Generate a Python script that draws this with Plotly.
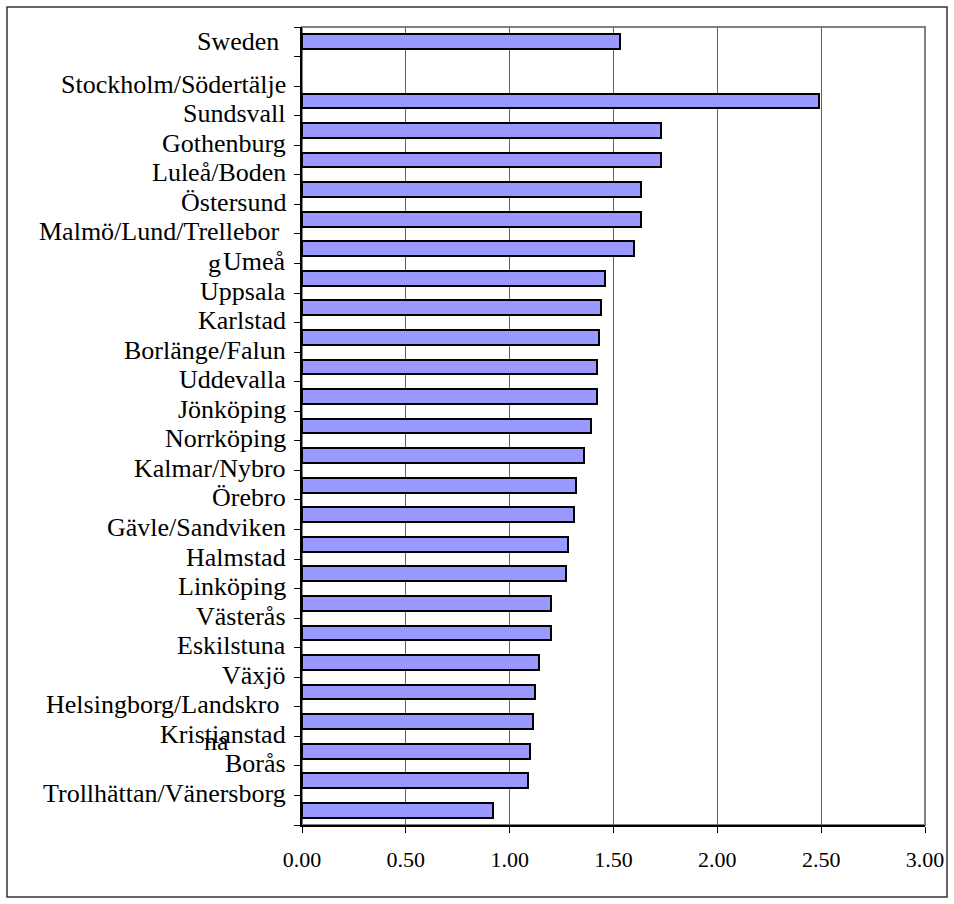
import plotly.graph_objects as go

# ---- data ----
categories = ["Sweden", "Stockholm/Södertälje", "Sundsvall", "Gothenburg", "Luleå/Boden",
              "Östersund", "Malmö/Lund/Trelleborg", "Umeå", "Uppsala", "Karlstad",
              "Borlänge/Falun", "Uddevalla", "Jönköping", "Norrköping", "Kalmar/Nybro",
              "Örebro", "Gävle/Sandviken", "Halmstad", "Linköping", "Västerås",
              "Eskilstuna", "Växjö", "Helsingborg/Landskrona", "Kristianstad", "Borås",
              "Trollhättan/Vänersborg"]
values = [1.53, 2.49, 1.73, 1.73, 1.63, 1.63, 1.60, 1.46, 1.44, 1.43,
          1.42, 1.42, 1.39, 1.36, 1.32, 1.31, 1.28, 1.27, 1.20, 1.20,
          1.14, 1.12, 1.11, 1.10, 1.09, 0.92]
x_ticks = [0.0, 0.5, 1.0, 1.5, 2.0, 2.5, 3.0]

# ---- layout geometry (pixels) ----
W, H = 954, 904
L, R, T, B = 302, 29, 27, 79
pw, ph = W - L - R, H - T - B
n_rows = len(categories) + 1  # one empty row after "Sweden"

# bar centres: Sweden in row 0, the rest after an empty row
bar_pos = [0.5] + [i + 1.5 for i in range(1, len(categories))]
# label positions (Sweden centred, the others sit on the tick lines)
label_pos = [0.5] + [i + 1 for i in range(1, len(categories))]

FONT = "Liberation Serif"
LFS = 26

fig = go.Figure()
fig.add_trace(go.Bar(
    x=values, y=bar_pos, orientation="h", width=0.5,
    marker=dict(color="#9999FF", line=dict(color="black", width=2)),
    hoverinfo="skip",
))

annotations = []
display = {0: "Sweden&nbsp;", 6: "Malmö/Lund/Trellebor&nbsp;", 22: "Helsingborg/Landskro&nbsp;"}
for i, name in enumerate(categories):
    annotations.append(dict(
        text=display.get(i, name), x=0, xref="paper", y=label_pos[i], yref="y",
        xanchor="right", yanchor="middle", xshift=-14, yshift=0 if i == 0 else 2,
        showarrow=False, font=dict(family=FONT, size=LFS, color="black"),
    ))
# wrapped remnants of the long labels
annotations.append(dict(text="g", x=0, xref="paper", y=label_pos[7], yref="y",
                        xanchor="center", yanchor="middle", xshift=-88, yshift=0,
                        showarrow=False, font=dict(family=FONT, size=LFS, color="black")))
annotations.append(dict(text="na", x=0, xref="paper", y=label_pos[23], yref="y",
                        xanchor="center", yanchor="middle", xshift=-86, yshift=-5,
                        showarrow=False, font=dict(family=FONT, size=LFS, color="black")))

def px_to_paper_x(px):
    return (px - L) / pw

def py_to_paper_y(py):
    return (H - B - py) / ph

shapes = [
    # plot area border (grey)
    dict(type="rect", xref="paper", yref="paper", x0=0, x1=1, y0=0, y1=1,
         line=dict(color="#808080", width=2), layer="below"),
    # outer chart frame
    dict(type="rect", xref="paper", yref="paper",
         x0=px_to_paper_x(7), x1=px_to_paper_x(947),
         y0=py_to_paper_y(897), y1=py_to_paper_y(7),
         line=dict(color="#333333", width=1.5)),
]

fig.update_layout(
    width=W, height=H,
    margin=dict(l=L, r=R, t=T, b=B, autoexpand=False),
    paper_bgcolor="white", plot_bgcolor="white",
    showlegend=False, bargap=0,
    annotations=annotations, shapes=shapes,
    font=dict(family=FONT, color="black"),
)
fig.update_xaxes(
    range=[0, 3], tickvals=x_ticks, ticktext=[f"{v:.2f}" for v in x_ticks],
    showgrid=True, gridcolor="#606060", gridwidth=1,
    showline=True, linecolor="black", linewidth=1.5,
    ticks="outside", ticklen=6, tickcolor="black", tickwidth=1,
    tickfont=dict(family=FONT, size=22, color="black"),
    ticklabelstandoff=8, zeroline=False,
)
fig.update_yaxes(
    range=[n_rows, 0], tickvals=list(range(n_rows + 1)),
    showticklabels=False, showgrid=False, zeroline=False,
    showline=True, linecolor="black", linewidth=1.5,
    ticks="outside", ticklen=6, tickcolor="black", tickwidth=1,
)

fig.write_html("out.html", config={"displayModeBar": False},
               post_script="document.body.style.margin='0';document.body.style.overflow='hidden';")
